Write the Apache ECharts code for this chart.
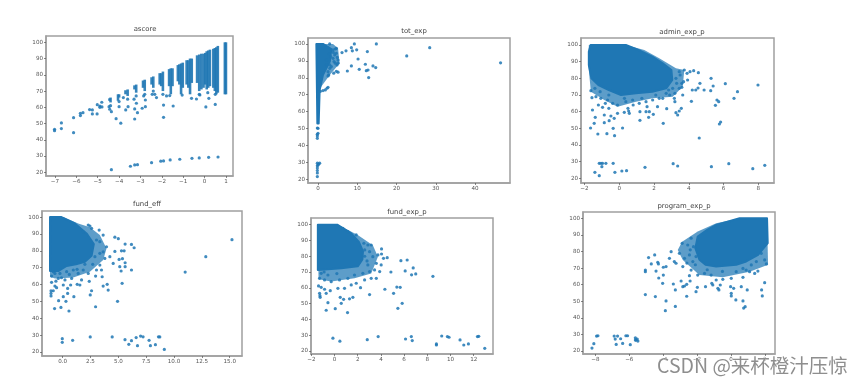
<!DOCTYPE html>
<html><head><meta charset="utf-8">
<style>html,body{margin:0;padding:0;background:#fff;overflow:hidden}
#c{width:864px;height:384px;filter:blur(0.75px)}
#w{position:absolute;left:657px;top:350px;font:19.5px "Noto Sans CJK SC","Noto Sans",sans-serif;color:#8e8e8e;text-shadow:0 0 2px #fff,0 0 2px #fff;white-space:nowrap;filter:blur(0.3px)}</style>
<script src="https://cdn.jsdelivr.net/npm/echarts@6/dist/echarts.min.js"></script>
</head><body><div id="c"></div><div id="w">CSDN @来杯橙汁压惊</div>
<script>
const titles=['ascore','tot_exp','admin_exp_p','fund_eff','fund_exp_p','program_exp_p'];
const yTicks=[20,30,40,50,60,70,80,90,100];
const ascoreXTicks=[-7,-6,-5,-4,-3,-2,-1,0,1];
const totExpXTicks=[0,10,20,30,40];
const adminXTicks=[-2,0,2,4,6,8];
const fundEffXTicks=[0,2.5,5,7.5,10,12.5,15];
const fundExpXTicks=[-2,0,2,4,6,8,10,12];
const programXTicks=[-8,-6,-4,-2,0,2];

// ascore dense columns: x, top, bottom
const ascoreColumns=[[1,100,68],[.95,100,68],[.62,97.8,69],[.55,97,68],[.48,96.5,70],[.41,96,72],[.25,95.5,73],[.17,95,72],[.1,94.5,71],[.03,93.5,74],[-.05,93,72],[-.15,93,71],[-.25,92.5,70],[-.35,92,75],[-.6,90,75],[-.68,90,68],[-.76,89,72],[-.84,89,74],[-1.02,87.5,72],[-1.1,87,68],[-1.18,86.5,74],[-1.25,86,76],[-1.5,84,73],[-1.58,84,68],[-1.66,83.5,73],[-1.95,82,70],[-2.03,81,73],[-2.1,81,74],[-2.4,79,72],[-2.48,78.5,74],[-2.8,77,70],[-2.88,76.5,72],[-3.2,74,69],[-3.28,73.5,71],[-3.6,71,67],[-3.7,70.5,68],[-4,68,66],[-4.05,68,64],[-4.4,66,63],[-4.45,65.5,64]];
const ascorePoints=[[-4.36,21.6],[-3.47,23.7],[-3.27,24.5],[-3.14,24.7],[-2.48,25.9],[-2.05,26.8],[-1.92,27],[-1.61,27.6],[-1.16,28],[-.59,28.6],[-.25,28.8],[.19,29.2],[.63,29.4],[-7.02,46.5],[-7.02,45.6],[-6.7,50.4],[-6.7,46.9],[-6.13,53.6],[-6.13,44.4],[-5.81,56.3],[-5.81,54.9],[-5.69,56.7],[-5.38,58.6],[-5.25,58.4],[-5.25,55.9],[-5.03,55.9],[-5.02,61.6],[-4.9,60.8],[-4.81,63.1],[-4.9,60],[-4.8,60.2],[-4.47,60.4],[-4.44,58.8],[-4.36,57.3],[-4,60.4],[-4,63.5],[-4.14,53],[-3.92,50.2],[-3.69,58.4],[-3.58,60.4],[-3.27,52.8],[-3.27,59],[-3.14,56.7],[-2.92,59.4],[-2.77,60.4],[-2.77,64.5],[-3.19,62.5],[-2.25,66],[-2.33,68],[-1.92,53.8],[-1.92,61.4],[-1.47,60.8],[.06,60.2],[.5,61.8],[-1.78,67],[-1.05,67.5],[-.61,65.5],[-.38,65.1],[.2,65.5],[-.22,67.6],[-1.63,67.2],[-3.6,65],[-3.3,65],[-2.85,67],[-3.8,66],[-4.4,61],[-3.2,67],[-2.8,68],[-2.4,70],[-2.45,68],[-1.95,68],[.5,68],[.15,69],[-.25,68]];

const totExpBlob=[[-.42,100],[1.27,100],[3.4,97],[3,89.6],[1.27,81.7],[.42,72.8],[.17,53],[-.17,53]];
const totExpFringe=[[-.42,100],[3.82,100],[5.1,97.4],[5.5,88.6],[3,81.7],[.85,74.8],[.2,72]];
const totExpPoints=[[46.5,88.8],[28.45,97.8],[22.6,92.9],[14.86,100],[9.26,100],[2.97,100],[12.57,95.5],[9.85,96.5],[8.5,97.8],[8.75,95.9],[7.13,95.9],[6.11,94.9],[10.2,91.1],[12.06,88],[14,87],[14.7,86],[12.74,84.6],[12.3,84.2],[10.5,85],[8.5,87],[7.47,84],[12.9,80.1],[5.1,83.3],[4.67,83.8],[4,82.7],[2.72,81.7],[2.55,81.1],[4.67,97.4],[3.82,96.5],[4.67,94.5],[5.1,90.5],[4.4,88.6],[5.1,88.6],[3.82,91.5],[3.23,92.5],[3.4,86.6],[2.12,90.5],[2.12,87.6],[3,85.6],[2.55,83.6],[4.25,93.5],[4.84,87.6],[4.08,89.6],[3,87.6],[.6,72],[1.27,72.4],[1.87,72.8],[2.3,73.8],[2.55,74.4],[0,50.1],[-.17,50.3],[-.17,46.6],[-.17,45.6],[-.17,44.2],[0,47.2],[-.17,29.5],[-.17,28],[-.17,26.6],[-.17,25.2],[-.17,23.7],[-.17,21.6],[.42,29.5],[.17,29],[0,28.5],[4.4,97],[4.9,92],[3.9,95],[2.9,94]];

const adminBlob=[[-1.65,100],[.38,100],[1.1,97],[1.9,93],[2.5,89],[3,85],[3.05,79],[2.7,74],[1.9,72],[.96,71],[.1,70],[-.6,73],[-1.2,76],[-1.6,80],[-1.75,88],[-1.75,96]];
const adminFringe=[[-1.75,100],[.38,100],[1.44,97],[2.3,92],[3.26,86],[3.74,85],[3.65,75],[3.07,69],[1.92,68],[.96,66],[-.1,63],[-.86,67],[-1.63,72],[-1.77,87]];
const adminPoints=[[-1.15,29],[-1.05,29],[-.96,29],[-.77,29],[-.35,29],[-1,27],[-1.4,23.6],[-1.15,21.6],[-.25,23.6],[.15,24.4],[.42,24.6],[1.48,26.6],[3.1,28.8],[3.36,27.4],[5.3,27],[6.3,28.8],[7.68,25.8],[8.37,27.8],[7.98,76],[6.8,72],[6.6,68],[6.1,76.8],[5.4,75.4],[5.28,80],[5.26,72.6],[4.88,73],[4.55,83.4],[4.28,84.6],[4.07,84],[4.64,77],[4.53,74.2],[4.4,73],[4.15,66.2],[5.62,67],[5.72,66],[5.53,63.8],[5.83,53.8],[5.76,52.6],[4.6,44.2],[2.53,53],[3.57,62],[3.45,60.4],[3.26,59.4],[3.36,58],[2.73,61.8],[1.96,58.4],[1.69,56.6],[1.19,54.8],[1.73,60],[1.54,60],[1.19,60],[.58,59],[.54,60.4],[.29,59.6],[.19,50.2],[-.35,50],[-.27,45.6],[-.71,46.8],[-1.23,46.6],[-1.65,50.2],[-1.44,53],[-1.38,56.6],[-1.54,61],[-1.57,68.4],[-.96,62.6],[-.86,58],[-.58,54.6],[-.48,57.4],[-.29,56],[-.86,53.4],[-.1,59],[-1.63,72.6],[-1.34,69],[-1.06,68],[-.67,67],[-.38,65],[-.1,64],[.38,66],[.77,67],[1.15,65],[1.54,66],[1.92,67],[2.3,68],[2.5,68],[2.9,70],[3.17,68],[3.65,70],[3.45,74],[3.6,74.6],[3.93,79],[3.74,85],[3.45,84],[3.26,80],[3.07,74],[2.84,73],[-1.4,74],[-1.1,72],[-.6,70],[.3,68],[1.3,68],[2.1,70],[2.7,71],[3.3,77],[3.6,77],[4.2,73],[3.2,71],[3.5,82],[3.9,83],[3.7,78],[2.2,63],[1.6,63],[.8,64],[.5,62],[-.6,62],[-1.2,64],[-.8,65],[3.2,66]];

const fundEffBlob=[[-1.13,100],[-.1,100],[1.1,96.2],[2.15,90.3],[2.8,84],[2.6,77],[2,73.5],[1.2,72],[.36,71],[-.4,68],[-1.13,68]];
const fundEffFringe=[[-1.13,100],[.06,100],[1.4,96.2],[2.45,94],[3.34,89.4],[3.94,81.4],[3.64,74.5],[2.45,67.6],[.96,64.2],[-.69,63.6],[-1.13,64.6]];
const fundEffPoints=[[15.2,86.6],[12.85,76.5],[11,67.4],[-.03,27.9],[-.03,25.7],[.9,26.9],[2.48,28.9],[4.45,28.9],[5.6,27.3],[5.94,24.5],[6.18,26.7],[6.6,28.5],[6.72,23.7],[7,29.4],[7.22,29],[7.76,26.9],[7.88,23.7],[8.33,24.3],[8.6,29],[8.72,28.9],[9.13,21.5],[4.69,88.1],[5,87.2],[5.61,84],[6.18,83.8],[6.42,81.8],[4.69,79.6],[5.28,80],[5.52,80],[3.94,82.4],[4.24,76.5],[4.54,72.5],[5.07,74.9],[5.37,75.3],[5.61,72.9],[5.61,70.6],[5.13,70.6],[5.25,68],[6.18,68.6],[5.34,60.7],[4.93,50],[4.09,56.7],[4,60.1],[3.64,59.1],[3.55,64.6],[2.96,65],[2.96,46.8],[2.39,61.9],[2.6,56.3],[2.48,53.8],[1.7,62.7],[1.55,59.7],[1.31,60.1],[1.01,52.8],[.57,44.3],[.3,50],[-.15,46.4],[-.72,45.7],[-.36,50.4],[-1.04,53.2],[-1.04,54.7],[-1.04,56.3],[-.84,56.3],[-.99,61.3],[-.69,59.1],[-.54,58.1],[.06,52.8],[.45,54.7],[.45,57.7],[.72,59.7],[.06,59.7],[-.99,65],[-.39,63.6],[.21,62.7],[.81,63.6],[1.4,66.6],[1.85,68.6],[2.3,66.6],[3.04,68.6],[3.34,71.5],[3.49,68.6],[3.79,75.5],[3.34,78.5],[2.9,76.5],[3.64,79.4],[3.34,85.4],[3.64,89.3],[3.28,92.3],[2.6,93.3],[2.3,95.3],[2.45,94.7],[3.04,86.4],[1.85,91.3],[-.84,67.6],[-.69,66.6],[-.24,66.6],[.36,67.6],[.96,68.6],[2,72],[2.7,72],[1.3,69],[.6,66],[-.1,64],[-.6,62]];

const fundExpBlob=[[-1.44,100],[.23,100],[1.44,94.5],[2.1,89],[2.45,83],[2.4,78],[2,73.6],[.58,72.4],[-1.44,71.3]];
const fundExpFringe=[[-1.44,100],[.29,100],[2,93.5],[3.3,87],[3.74,79.7],[3.16,69],[1.72,66],[-.29,64],[-1.38,65.4]];
const fundExpPoints=[[12.95,21.7],[12.43,29.3],[12.32,29.1],[11.54,24.5],[11.14,23.8],[10.82,27],[9.87,28.7],[9.73,29.1],[9.24,29.5],[8.78,24.5],[8.78,23.8],[6.7,26.6],[6.62,29.1],[6.12,27.6],[3.76,29.1],[2.82,27.2],[.46,26.2],[-.14,28.1],[8.48,67.3],[7,68.8],[6.78,72.6],[6.64,68.2],[6.09,70.7],[6.26,77.6],[5.72,77.2],[4.86,70],[4.54,79.1],[4.22,78.7],[4.05,84.6],[4.05,81.4],[3.74,80.8],[5.83,50.2],[5.46,47],[5.09,56.5],[5.66,60.3],[5.37,60.5],[4.34,59.1],[3.02,55.7],[2.24,60.1],[1.58,54],[1.29,53],[1.12,44.3],[.58,50.2],[.78,52.7],[.49,54],[.06,46.8],[-.72,45.8],[-.57,50.6],[-1.24,54],[-1.26,55],[-1.29,56.5],[-1.38,61.2],[-1.15,60.3],[-.86,59.1],[-.72,56.5],[-.37,58.2],[.29,59.7],[.86,59.7],[1.44,61.8],[1.87,62.9],[2.59,65],[3.16,66],[3.6,66],[3.89,70.3],[3.45,71.3],[3.02,70.3],[2.87,74.5],[3.6,75.5],[4.02,74.5],[3.3,79.7],[3.02,82.9],[3.16,87.1],[2.87,87.1],[2.53,88.2],[-1.29,66],[-.86,65],[-.29,63.9],[.43,65],[1.15,66],[1.72,68.1],[2.44,69.2],[-1.15,69.2],[-.57,68.1],[.72,97.7],[1.15,95.6],[1.87,93.5],[2.6,80],[2.8,77],[2.6,84],[-.9,70],[.2,69]];

const programBlob=[[-1.96,89],[-1.4,93],[-.87,96],[.51,100],[2.13,100],[2.17,85],[1.6,78],[.9,74],[.31,72],[-.87,71],[-1.5,72],[-1.86,75],[-2.1,82]];
const programFringe=[[-2.88,85.9],[-1.96,92],[-.87,97],[.51,100],[2.13,100],[2.19,72],[1.1,67.8],[-.48,64.4],[-1.86,65.8],[-2.84,74.9],[-3.14,80.9]];
const programPoints=[[-8.2,21.8],[-8.09,24.4],[-7.93,29],[-7.85,29.2],[-6.89,29],[-6.83,27.2],[-6.69,29],[-6.51,27.4],[-6.77,24],[-6.39,24.6],[-6.2,29.2],[-6.1,29.2],[-5.94,23.8],[-5.64,28],[-5.6,26.6],[-5.53,27.2],[-5.49,26],[-5.64,26.6],[-5.05,68.8],[-5.05,67.8],[-4.86,76.3],[-4.7,72.5],[-4.5,77.9],[-4.42,68.2],[-4.32,73.5],[-4.28,72.5],[-4.26,64],[-5.05,54],[-4.46,52.8],[-3.99,70.5],[-3.99,65.8],[-4.03,60.8],[-3.83,50.2],[-3.87,44.3],[-3.28,46.9],[-3.4,60.4],[-3.28,56.8],[-2.61,53],[-2.94,62.2],[-2.84,58.8],[-2.74,59.2],[-2.61,60.2],[-2.41,62.2],[-2.45,65.4],[-2.06,55.8],[-1.98,58.4],[-1.5,58.8],[-1.13,60.8],[-1.07,59.8],[-.77,57.8],[-.71,56.8],[-.63,59.8],[-.02,58.8],[.02,54.8],[.16,57.8],[.29,50.8],[.02,53.2],[.71,50.2],[.84,46.7],[.75,45.9],[.96,56.8],[.61,58.8],[1.81,56.8],[1.85,53.2],[1.99,61.2],[1.59,68.2],[1.4,66.8],[1.1,67.8],[.9,68.8],[.71,64.4],[.02,63.8],[-.48,63.2],[-.87,62.8],[-1.17,65.8],[-1.56,66.8],[-1.96,65.8],[-2.35,68.8],[-2.84,70.9],[-3.24,72.9],[-3.53,79.9],[-3.63,75.9],[-3.83,70.9],[-3.34,73.9],[-3.04,78.9],[-2.88,84.9],[-2.55,83.9],[-2.35,88],[-2.21,82.9],[-2.74,75.9],[-2.45,77.9],[-2.25,73.9],[-2.06,76.9],[1.99,74.9],[2.09,72.5],[1.99,83.9],[1.79,78.9],[1.5,73.9],[1.2,71.9],[.71,69.8],[.31,67.8],[-1.4,69],[-.5,68],[-2.1,72],[-2.6,73],[-2.4,81]];

const panels=[
 {box:[46,36,233,176],xr:[-7.42,1.33],yr:[17.7,103.9],tx:[140,21],xt:ascoreXTicks,pts:ascorePoints,cols:ascoreColumns},
 {box:[308,38,510,183],xr:[-2.55,48.9],yr:[17.8,103.5],tx:[409,23],xt:totExpXTicks,pts:totExpPoints,blob:totExpBlob,fringe:totExpFringe},
 {box:[581,38,774,183],xr:[-2.2,8.9],yr:[17.2,104.2],tx:[677,24],xt:adminXTicks,pts:adminPoints,blob:adminBlob,fringe:adminFringe},
 {box:[42,211,242,356],xr:[-1.85,16.1],yr:[17.6,103.6],tx:[142,196],xt:fundEffXTicks,pts:fundEffPoints,blob:fundEffBlob,fringe:fundEffFringe,fix:1},
 {box:[311,218,493,354],xr:[-2.03,13.66],yr:[18.1,104.2],tx:[402,204],xt:fundExpXTicks,pts:fundExpPoints,blob:fundExpBlob,fringe:fundExpFringe},
 {box:[583,212,775,354],xr:[-8.73,2.6],yr:[18.2,103.8],tx:[679,198],xt:programXTicks,pts:programPoints,blob:programBlob,fringe:programFringe}
];
const BLUE='#1f77b4',GREY='#555';
const fmt=(v,fix)=>(fix?v.toFixed(1):String(v)).replace('-','\u2212');
const polygon=(outline,opacity,width)=>(ps,api)=>ps.dataIndex?null:{type:'polygon',shape:{points:outline.map(q=>api.coord(q))},style:{fill:BLUE,stroke:width?BLUE:null,lineWidth:width,lineJoin:'round',opacity}};
const option={animation:false,title:[],grid:[],xAxis:[],yAxis:[],series:[]};
panels.forEach((p,i)=>{
 option.title.push({text:titles[i],left:p.tx[0],top:p.tx[1],textAlign:'center',textStyle:{fontSize:6.9,fontWeight:'normal',color:'#444',fontFamily:'DejaVu Sans'}});
 option.grid.push({left:p.box[0],top:p.box[1],width:p.box[2]-p.box[0],height:p.box[3]-p.box[1],show:true,borderColor:'#a0a0a0',borderWidth:1.5,backgroundColor:'#fff'});
 const common={gridIndex:i,type:'value',splitLine:{show:false},axisLine:{show:true,onZero:false,lineStyle:{color:'#a0a0a0',width:1.5}}};
 const lab={fontSize:5.6,color:GREY,margin:3,fontFamily:'DejaVu Sans'};
 option.xAxis.push({...common,min:p.xr[0],max:p.xr[1],axisTick:{show:true,length:2,lineStyle:{color:GREY,width:.7},customValues:p.xt},axisLabel:{...lab,customValues:p.xt,formatter:v=>fmt(v,p.fix),showMinLabel:true,showMaxLabel:true}});
 option.yAxis.push({...common,min:p.yr[0],max:p.yr[1],axisTick:{show:true,length:2,lineStyle:{color:GREY,width:.7},customValues:yTicks},axisLabel:{...lab,customValues:yTicks,formatter:v=>fmt(v),showMinLabel:true,showMaxLabel:true}});
 if(p.cols) option.series.push({type:'custom',xAxisIndex:i,yAxisIndex:i,data:p.cols,silent:true,encode:{x:0,y:[1,2]},
  renderItem:(ps,api)=>{const a=api.coord([api.value(0),api.value(1)]),b=api.coord([api.value(0),api.value(2)]);
   return {type:'line',shape:{x1:a[0],y1:a[1],x2:b[0],y2:b[1]},style:{stroke:BLUE,lineWidth:2.6,opacity:.9}};}});
 if(p.fringe) option.series.push({type:'custom',xAxisIndex:i,yAxisIndex:i,data:p.fringe,silent:true,encode:{x:0,y:1},renderItem:polygon(p.fringe,.72,0)});
 if(p.blob) option.series.push({type:'custom',xAxisIndex:i,yAxisIndex:i,data:p.blob,silent:true,encode:{x:0,y:1},renderItem:polygon(p.blob,1,2)});
 option.series.push({type:'scatter',xAxisIndex:i,yAxisIndex:i,data:p.pts,symbolSize:3.2,silent:true,itemStyle:{color:BLUE,opacity:.85}});
});
echarts.init(document.getElementById('c'),null,{renderer:'canvas'}).setOption(option);
</script></body></html>
